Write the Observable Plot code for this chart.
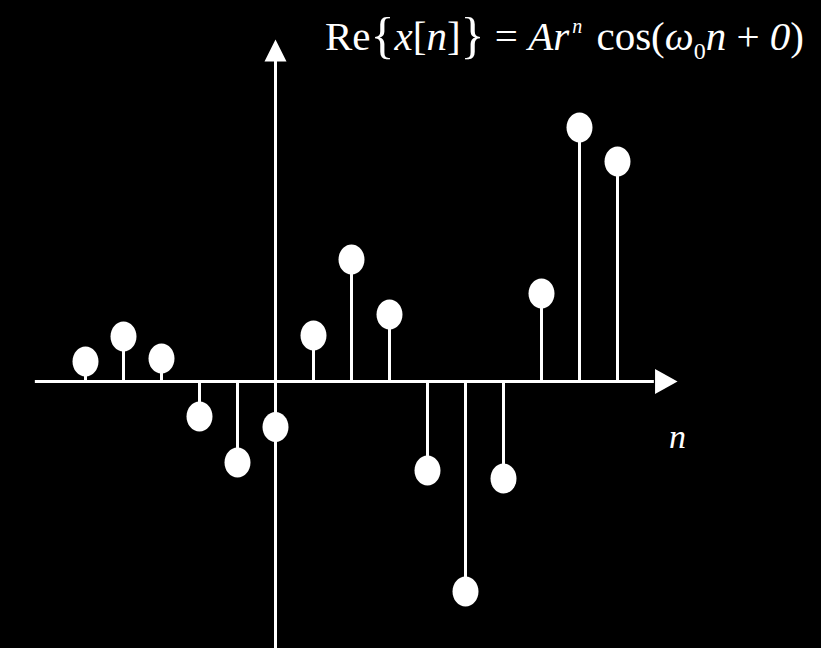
<!DOCTYPE html>
<html>
<head>
<meta charset="utf-8">
<script src="https://cdn.jsdelivr.net/npm/d3@7"></script>
<script src="https://cdn.jsdelivr.net/npm/@observablehq/plot@0.6"></script>
<style>
  html, body { margin: 0; padding: 0; background: #000; }
  #wrap { position: relative; width: 821px; height: 648px; overflow: hidden; background: #000; }
  #title {
    position: absolute; right: 17px; top: 8px;
    font-family: "Liberation Serif", "Times New Roman", serif;
    font-size: 41px; color: #fff; white-space: nowrap; line-height: 1;
  }
  #title i { font-style: italic; }
  #title .br { font-size: 50px; position: relative; top: 2px; }
  #title sup { font-size: 20px; font-style: italic; position: relative; top: -17px; vertical-align: baseline; margin-left: 3px; margin-right: 4px; }
  #title sub { font-size: 24px; position: relative; top: 9px; vertical-align: baseline; }
</style>
</head>
<body>
<div id="wrap">
  <div id="chart"></div>
  <div id="title">Re<span class="br">{</span><i>x</i>[<i>n</i>]<span class="br">}</span> = <i>Ar</i><sup>n</sup> cos(<i>ω</i><sub>0</sub><i>n</i> + <i>0</i>)</div>
</div>
<script>
// sample index n and value Re{x[n]}
const n = [-5, -4, -3, -2, -1, 0, 1, 2, 3, 4, 5, 6, 7, 8, 9];
const values = [0.20, 0.45, 0.23, -0.35, -0.81, -0.455, 0.46, 1.22, 0.67, -0.89, -2.10, -0.97, 0.88, 2.54, 2.20];

// axis extents (data units)
const xAxisStart = -6.32, xAxisEnd = 9.97, xArrowTip = 10.58;
const yAxisBottom = -2.7, yAxisEnd = 3.2, yArrowTip = 3.42;
const axisLabel = "n";
const axisLabelPos = {x: 10.58, y: -0.66};

const data = n.map((d, i) => ({n: d, v: values[i]}));

// ellipse marker symbol
const ellipseSymbol = {
  draw(ctx, size) {
    const r = Math.sqrt(size / Math.PI);
    const rx = r, ry = r * 15 / 13, k = 0.5523;
    ctx.moveTo(rx, 0);
    ctx.bezierCurveTo(rx, k * ry, k * rx, ry, 0, ry);
    ctx.bezierCurveTo(-k * rx, ry, -rx, k * ry, -rx, 0);
    ctx.bezierCurveTo(-rx, -k * ry, -k * rx, -ry, 0, -ry);
    ctx.bezierCurveTo(k * rx, -ry, rx, -k * ry, rx, 0);
    ctx.closePath();
  }
};
// arrowheads with tip at the origin
const arrowUp = {
  draw(ctx, size) {
    const r = Math.sqrt(size / Math.PI);
    ctx.moveTo(0, 0);
    ctx.lineTo(-r, 2 * r);
    ctx.lineTo(r, 2 * r);
    ctx.closePath();
  }
};
const arrowRight = {
  draw(ctx, size) {
    const r = Math.sqrt(size / Math.PI);
    ctx.moveTo(0, 0);
    ctx.lineTo(-1.8 * r, -r);
    ctx.lineTo(-1.8 * r, r);
    ctx.closePath();
  }
};

const chart = Plot.plot({
  width: 821,
  height: 648,
  margin: 0,
  style: {background: "black", color: "white"},
  x: {domain: [-275 / 38, 546 / 38], axis: null},
  y: {domain: [-2.67, 3.81], axis: null},
  marks: [
    // axes
    Plot.ruleY([0], {x1: xAxisStart, x2: xAxisEnd, stroke: "white", strokeWidth: 3}),
    Plot.ruleX([0], {y1: yAxisBottom, y2: yAxisEnd, stroke: "white", strokeWidth: 3}),
    Plot.dot([{x: xArrowTip, y: 0}], {x: "x", y: "y", symbol: arrowRight, r: 12.5, fill: "white", stroke: null}),
    Plot.dot([{x: 0, y: yArrowTip}], {x: "x", y: "y", symbol: arrowUp, r: 11, fill: "white", stroke: null}),
    // stems
    Plot.ruleX(data, {x: "n", y1: 0, y2: "v", stroke: "white", strokeWidth: 3}),
    // markers
    Plot.dot(data, {x: "n", y: "v", symbol: ellipseSymbol, r: 13, fill: "white", stroke: null}),
    // axis label
    Plot.text([axisLabelPos], {x: "x", y: "y", text: () => axisLabel, fill: "white",
      fontFamily: "Liberation Serif", fontStyle: "italic", fontSize: 34,
      textAnchor: "middle", lineAnchor: "bottom"})
  ]
});
document.getElementById("chart").appendChild(chart);
</script>
</body>
</html>
